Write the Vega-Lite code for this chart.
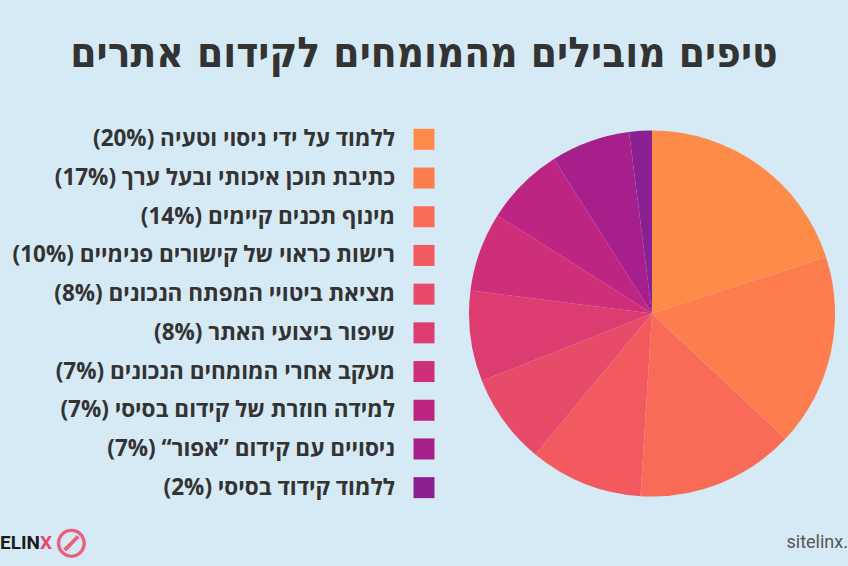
{
  "$schema": "https://vega.github.io/schema/vega-lite/v6.json",
  "background": "#D5EAF4",
  "padding": {"left": 0, "right": 0, "top": 33, "bottom": 0},
  "config": {"view": {"stroke": null}, "concat": {"spacing": 0}},
  "title": {
    "text": "טיפים מובילים מהמומחים לקידום אתרים",
    "font": "DejaVu Sans Condensed, DejaVu Sans",
    "fontSize": 42,
    "fontWeight": "bold",
    "color": "#333333",
    "anchor": "middle",
    "offset": 44
  },
  "datasets": {
    "tips": [
      {"k": 1, "label": "ללמוד על ידי ניסוי וטעיה (20%)‏", "pct": 20},
      {"k": 2, "label": "כתיבת תוכן איכותי ובעל ערך (17%)‏", "pct": 17},
      {"k": 3, "label": "מינוף תכנים קיימים (14%)‏", "pct": 14},
      {"k": 4, "label": "רישות כראוי של קישורים פנימיים (10%)‏", "pct": 10},
      {"k": 5, "label": "מציאת ביטויי המפתח הנכונים (8%)‏", "pct": 8},
      {"k": 6, "label": "שיפור ביצועי האתר (8%)‏", "pct": 8},
      {"k": 7, "label": "מעקב אחרי המומחים הנכונים (7%)‏", "pct": 7},
      {"k": 8, "label": "למידה חוזרת של קידום בסיסי (7%)‏", "pct": 7},
      {"k": 9, "label": "ניסויים עם קידום ”אפור“ (7%)‏", "pct": 7},
      {"k": 10, "label": "ללמוד קידוד בסיסי (2%)‏", "pct": 2}
    ]
  },
  "vconcat": [
    {
      "hconcat": [
        {
          "width": 424,
          "height": 387,
          "data": {"name": "tips"},
          "layer": [
            {
              "mark": {"type": "point", "shape": "square", "filled": true, "size": 441, "opacity": 1},
              "encoding": {
                "x": {"datum": 1, "type": "quantitative", "scale": {"domain": [0, 1]}, "axis": null},
                "y": {"field": "label", "type": "nominal", "sort": {"field": "k"}, "axis": null},
                "color": {
                  "field": "label",
                  "type": "nominal",
                  "sort": {"field": "k"},
                  "legend": null,
                  "scale": {
                    "range": ["#FE8C48", "#FE7D4F", "#FA6B57", "#F25A60", "#E84A69", "#DD3C70", "#CF2F79", "#BE2482", "#A71F8B", "#8B2093"]
                  }
                }
              }
            },
            {
              "mark": {"type": "text", "align": "right", "baseline": "middle", "dx": -29, "font": "Open Sans, DejaVu Sans", "fontSize": 22.5, "fontWeight": "bold", "color": "#333333"},
              "encoding": {
                "x": {"datum": 1, "type": "quantitative", "scale": {"domain": [0, 1]}, "axis": null},
                "y": {"field": "label", "type": "nominal", "sort": {"field": "k"}, "axis": null},
                "text": {"field": "label"}
              }
            }
          ]
        },
        {
          "width": 366,
          "height": 387,
          "data": {"name": "tips"},
          "mark": {"type": "arc", "outerRadius": 183},
          "encoding": {
            "theta": {"field": "pct", "type": "quantitative", "stack": true},
            "order": {"field": "k", "type": "quantitative"},
            "color": {"field": "label", "type": "nominal", "sort": {"field": "k"}, "legend": null}
          }
        }
      ],
      "spacing": 34
    },
    {
      "width": 848,
      "height": 30,
      "layer": [
        {
          "data": {"values": [{"t": "ELIN"}]},
          "mark": {"type": "text", "align": "left", "baseline": "middle", "font": "Roboto", "fontSize": 19, "fontWeight": "bold", "color": "#1A1A1A"},
          "encoding": {
            "x": {"datum": 0, "type": "quantitative", "scale": {"domain": [0, 1]}, "axis": null},
            "text": {"field": "t"}
          }
        },
        {
          "data": {"values": [{"t": "X"}]},
          "mark": {"type": "text", "align": "left", "baseline": "middle", "dx": 40, "font": "Roboto", "fontSize": 19, "fontWeight": "bold", "color": "#E8486E"},
          "encoding": {
            "x": {"datum": 0, "type": "quantitative", "scale": {"domain": [0, 1]}, "axis": null},
            "text": {"field": "t"}
          }
        },
        {
          "data": {"values": [{"t": "⊘"}]},
          "mark": {"type": "text", "align": "left", "baseline": "middle", "dx": 53, "dy": 1, "font": "DejaVu Sans", "fontSize": 44, "color": "#E8607E"},
          "encoding": {
            "x": {"datum": 0, "type": "quantitative", "scale": {"domain": [0, 1]}, "axis": null},
            "text": {"field": "t"}
          }
        },
        {
          "data": {"values": [{"t": "sitelinx."}]},
          "mark": {"type": "text", "align": "right", "baseline": "middle", "font": "Roboto", "fontSize": 18, "color": "#555555"},
          "encoding": {
            "x": {"datum": 1, "type": "quantitative", "scale": {"domain": [0, 1]}, "axis": null},
            "text": {"field": "t"}
          }
        }
      ]
    }
  ],
  "spacing": 15
}
